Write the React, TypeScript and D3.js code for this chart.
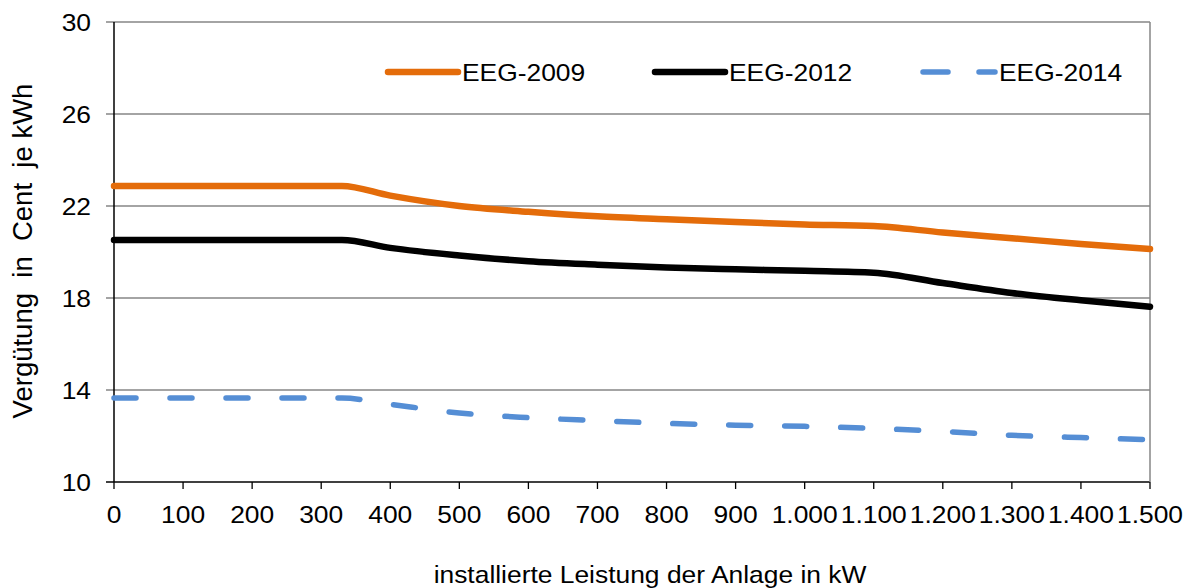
import React from "react";
import * as d3 from "d3";

const xValues = [0, 330, 400, 500, 600, 700, 800, 900, 1000, 1100, 1200, 1300, 1400, 1500];
const eeg2009 = [22.87, 22.87, 22.45, 22.0, 21.75, 21.55, 21.42, 21.3, 21.2, 21.13, 20.85, 20.6, 20.35, 20.13];
const eeg2012 = [20.52, 20.52, 20.18, 19.85, 19.6, 19.45, 19.33, 19.25, 19.18, 19.1, 18.65, 18.22, 17.9, 17.62];
const eeg2014 = [13.65, 13.65, 13.38, 13.0, 12.8, 12.67, 12.55, 12.47, 12.42, 12.33, 12.2, 12.03, 11.93, 11.84];
const xTicks = [0, 100, 200, 300, 400, 500, 600, 700, 800, 900, 1000, 1100, 1200, 1300, 1400, 1500];
const yTicks = [10, 14, 18, 22, 26, 30];
const seriesNames = ["EEG-2009", "EEG-2012", "EEG-2014"];
const seriesColors = ["#E46C0A", "#000000", "#558ED5"];

const W = 1187;
const H = 588;
const left = 114;
const right = 1150;
const top = 22;
const bottom = 482;
const FONT = "Liberation Sans, Arial, sans-serif";
const SX = 1.1;

const de = d3.formatLocale({ decimal: ",", thousands: ".", grouping: [3], currency: ["", "€"] });
const fmt = de.format(",d");

function T(props: { x: number; y: number; anchor?: string; size?: number; children: React.ReactNode }) {
  return (
    <text
      transform={`translate(${props.x},${props.y}) scale(${SX},1)`}
      textAnchor={props.anchor || "start"}
      fontSize={props.size || 24}
      fill="#000"
    >
      {props.children}
    </text>
  );
}

export default function App() {
  const x = d3.scaleLinear().domain([0, 1500]).range([left, right]);
  const y = d3.scaleLinear().domain([10, 30]).range([bottom, top]);
  const line = d3
    .line<[number, number]>()
    .x((d) => x(d[0]))
    .y((d) => y(d[1]))
    .curve(d3.curveMonotoneX);
  const series = [eeg2009, eeg2012, eeg2014];
  const widths = [6.5, 6.5, 5.5];
  const dashes = [undefined, undefined, "22 34"];

  const legendItems = [
    { x0: 388, x1: 458 },
    { x0: 655, x1: 725 },
    { x0: 923, x1: 995 },
  ];
  const legendY = 72;

  return (
    <svg width={W} height={H} style={{ position: "absolute", left: 0, top: 0, background: "#fff" }} fontFamily={FONT}>
      <rect x={0} y={0} width={W} height={H} fill="#fff" />
      {yTicks.map((t) => (
        <line key={"g" + t} x1={left - 8} x2={right} y1={y(t)} y2={y(t)} stroke={t === 10 ? "#000" : "#868686"} strokeWidth={1.3} />
      ))}
      <line x1={right} x2={right} y1={top} y2={bottom} stroke="#868686" strokeWidth={1.5} />
      <line x1={left} x2={left} y1={top} y2={bottom} stroke="#000" strokeWidth={1.5} />
      {xTicks.map((t) => (
        <line key={"xt" + t} x1={x(t)} x2={x(t)} y1={bottom} y2={bottom + 7} stroke="#000" strokeWidth={1.3} />
      ))}
      {yTicks.map((t) => (
        <T key={"yl" + t} x={91} y={y(t) + 8.6} anchor="end">
          {t}
        </T>
      ))}
      {xTicks.map((t) => (
        <T key={"xl" + t} x={x(t)} y={523} anchor="middle">
          {fmt(t)}
        </T>
      ))}
      {series.map((s, i) => (
        <path
          key={seriesNames[i]}
          d={line(xValues.map((v, j) => [v, s[j]] as [number, number])) || ""}
          fill="none"
          stroke={seriesColors[i]}
          strokeWidth={widths[i]}
          strokeDasharray={dashes[i]}
          strokeLinecap="round"
          strokeLinejoin="round"
        />
      ))}
      {legendItems.map((l, i) => (
        <g key={"lg" + i}>
          <line
            x1={l.x0}
            x2={l.x1}
            y1={legendY}
            y2={legendY}
            stroke={seriesColors[i]}
            strokeWidth={widths[i]}
            strokeDasharray={i === 2 ? "25 31" : undefined}
            strokeLinecap="round"
          />
          <T x={l.x1 + 4} y={legendY + 9}>
            {seriesNames[i]}
          </T>
        </g>
      ))}
      <text
        transform={`translate(32, 251) rotate(-90)`}
        textAnchor="middle"
        fontSize={27.5}
        fill="#000"
        style={{ whiteSpace: "pre" }}
      >
        {"Vergütung  in  Cent  je kWh"}
      </text>
      <T x={650} y={583} anchor="middle">
        installierte Leistung der Anlage in kW
      </T>
    </svg>
  );
}
